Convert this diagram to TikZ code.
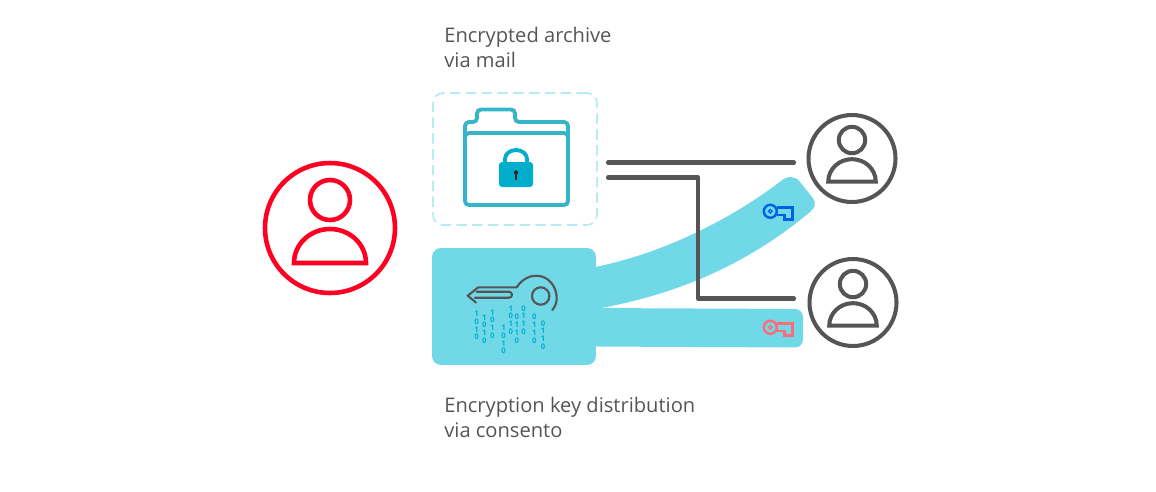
\documentclass[tikz,border=0pt]{standalone}
\usepackage{fontspec}
\setmainfont{Open Sans}
\usepackage{xcolor}
\usepackage{tikz}
\usetikzlibrary{positioning}
\definecolor{cvband}{RGB}{112,216,230}
\definecolor{cvdash}{RGB}{184,236,244}
\definecolor{cvfold}{RGB}{53,181,201}
\definecolor{cvlock}{RGB}{0,174,203}
\definecolor{cvbits}{RGB}{0,178,210}
\definecolor{cvg}{RGB}{85,85,85}
\definecolor{cvred}{RGB}{255,0,34}
\definecolor{cvblue}{RGB}{0,98,224}
\definecolor{cvpink}{RGB}{255,107,120}

\tikzset{
  usericon/.pic={
    \draw[pic actions] (0,-28) circle (20);
    \draw[pic actions,line join=miter] (-36,35) arc[start angle=180,end angle=360,x radius=36,y radius=34] -- cycle;
  },
  keyicon/.pic={
    \draw[pic actions] (0,0) circle (6.5);
    \draw[pic actions,line width=0.7pt] (0,0) circle (1.8);
    \draw[pic actions,line join=miter] (6.5,-4) -- (22,-4) -- (22,8) -- (14,8) -- (14,3.7) -- (6.5,3.7);
  }
}

\begin{document}
\begin{tikzpicture}[
  x=0.02cm,y=-0.02cm,
  font=\fontsize{11.45}{14.2}\selectfont,
  caption/.style={anchor=north west,align=left,inner sep=0pt,text=cvg},
  reader/.style={circle,draw=cvg,line width=2.3pt,minimum size=1.74cm,inner sep=0pt},
  band/.style={fill=cvband,draw=none},
  wire/.style={draw=cvg,line width=2.3pt,line cap=round,line join=round},
  bits/.style={text=cvbits,align=center,inner sep=0pt,font=\fontsize{4.4}{4.45}\selectfont\bfseries}
]
\useasboundingbox (0,0) rectangle (1156,491);

\node[caption] (mailtxt) at (444,26.5) {Encrypted archive\\via mail};
\node[caption] (keytxt) at (444,396.5) {Encryption key distribution\\via consento};

% sender
\node[circle,draw=cvred,line width=2.6pt,minimum size=2.6cm,inner sep=0pt] (sender) at (330,228) {};
\pic[draw=cvred,line width=2.6pt] at (330,228) {usericon};

% archive
\node[draw=cvdash,dash pattern=on 6pt off 3pt,line width=1pt,rounded corners=0.2cm,minimum width=3.28cm,minimum height=2.64cm] (archive) at (515,159) {};
\draw[cvfold,line width=2.2pt,rounded corners=0.08cm] (465,205) -- (465,122) -- (477,122) -- (477,109.5) -- (515,109.5) -- (515,122) -- (568,122) -- (568,205) -- cycle;
\draw[cvfold,line width=2.2pt,rounded corners=0.08cm] (465,138) -- (465,133) -- (568,133) -- (568,138);
\draw[cvlock,line width=2.2pt] (505,164) -- (505,159) arc[start angle=180,end angle=360,x radius=11,y radius=9] -- (527,164);
\fill[cvlock,rounded corners=0.06cm] (499,162) rectangle (533,187);
\fill[cvg!50!black] (516,172.5) circle (2.2);
\draw[cvg!50!black,line width=0.6pt] (516,173) -- (516,180);

% bands
\path[band] (590,268) .. controls (660,255) and (730,220) .. (781,181) .. controls (787,176) and (795,175) .. (800,182) -- (812,197) .. controls (817,203) and (815,208) .. (810,212) .. controls (750,262) and (680,295) .. (590,310) -- cycle;
\path[band,rounded corners=0.16cm] (590,308) -- (803,309) -- (803,347.5) -- (590,346.5) -- cycle;
\node[band,rounded corners=0.18cm,minimum width=3.28cm,minimum height=2.34cm,inner sep=0pt] (keybox) at (514,306.5) {};

% big key
\draw[cvg,line width=1.2pt,line join=round,line cap=round] (476,302.5) -- (467.7,295.7) -- (478.3,287.3) -- (516.7,287.3) .. controls (522,279) and (530,275.5) .. (536.7,275.7) .. controls (549,276) and (557,287) .. (556.7,299) .. controls (556.5,303) and (555,307) .. (552.3,310);
\draw[cvg,line width=1.2pt,line join=round,line cap=round] (476.7,291.7) -- (509,291.7) arc[start angle=-90,end angle=90,radius=3] -- (475,297.7);
\draw[cvg,line width=1.2pt] (540.7,296) circle (8.7);

\foreach \px/\py/\pb in {476.7/325.5/1\\0\\1\\0, 484.3/329/1\\0\\1\\0, 492.3/324/1\\0\\1\\0,
    503.7/339.5/1\\0\\1\\0, 510.7/320/1\\0\\1\\0, 516.7/328.5/0\\1\\1\\0,
    523.7/320/0\\1\\1\\0, 534.3/328.5/0\\1\\1\\0, 543/335/0\\1\\1\\0}
  \node[bits] at (\px,\py) {\pb};

% key icons
\pic[draw=cvblue,line width=1.4pt] at (770.3,211.3) {keyicon};
\pic[draw=cvpink,line width=1.4pt] at (770.3,327.3) {keyicon};

% readers
\node[reader] (readera) at (852,158.5) {};
\pic[draw=cvg,line width=2.3pt,scale=0.66] at (852,158.5) {usericon};
\node[reader] (readerb) at (853,302.5) {};
\pic[draw=cvg,line width=2.3pt,scale=0.66] at (853,302.5) {usericon};

% wires
\coordinate (outa) at (608,162.5);
\coordinate (outb) at (608,177.5);
\coordinate (ina) at (794,162.5);
\coordinate (inb) at (794,298.5);
\draw[wire] (outa) -- (ina);
\draw[wire] (outb) -- (outb -| 698,0) -- (inb -| 698,0) -- (inb);
\end{tikzpicture}
\end{document}
